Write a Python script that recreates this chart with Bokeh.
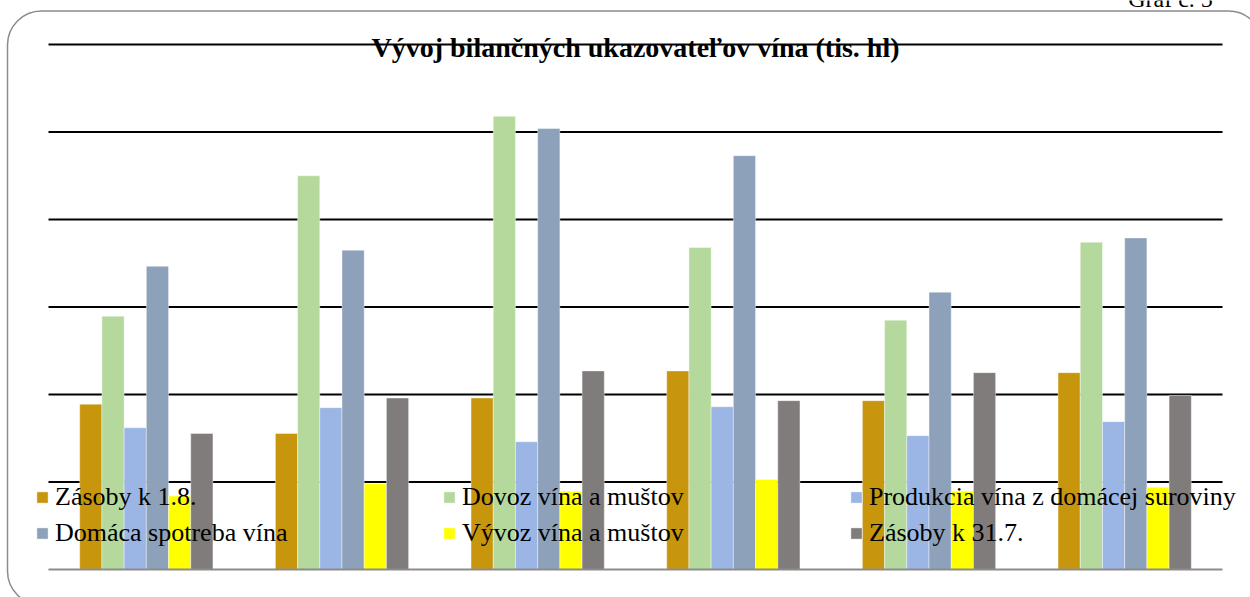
from bokeh.plotting import figure
from bokeh.models import (ColumnDataSource, Range1d, Label, Legend, LegendItem)
from bokeh.transform import dodge
from bokeh.embed import file_html
from bokeh.resources import INLINE

# ---- data (tis. hl) ----
categories = ["obdobie 1", "obdobie 2", "obdobie 3", "obdobie 4", "obdobie 5", "obdobie 6"]
zasoby_1_8 = [378, 311, 392, 454, 386, 450]
dovoz = [579, 900, 1036, 736, 570, 748]
produkcia = [324, 370, 292, 372, 306, 338]
spotreba = [693, 730, 1008, 946, 634, 758]
vyvoz = [168, 196, 179, 206, 179, 188]
zasoby_31_7 = [311, 392, 454, 386, 450, 398]
grid_ticks = [200, 400, 600, 800, 1000, 1200]

series_names = ["Zásoby k 1.8.", "Dovoz vína a muštov", "Produkcia vína z domácej suroviny",
                "Domáca spotreba vína", "Vývoz vína a muštov", "Zásoby k 31.7."]
series_keys = ["z18", "dov", "prod", "spot", "vyv", "z317"]
colors = ["#C8960C", "#B5D99C", "#9BB5E4", "#8EA1BB", "#FFFF00", "#807C7B"]
title_text = "Vývoj bilančných ukazovateľov vína (tis. hl)"
graf_text = "Graf č. 5"

SERIF = "'Liberation Serif', 'Times New Roman', serif"

n = len(categories)
src = ColumnDataSource(dict(cat=categories, xpos=[i + 0.5 for i in range(n)],
                            z18=zasoby_1_8, dov=dovoz, prod=produkcia,
                            spot=spotreba, vyv=vyvoz, z317=zasoby_31_7))

W, H = 1250, 597
p = figure(width=W, height=H, output_backend="svg", toolbar_location=None,
           x_range=Range1d(-0.2453, 6.1430), y_range=Range1d(-64.0, 1300.6),
           min_border_left=0, min_border_right=0, min_border_top=0, min_border_bottom=0,
           margin=0)
p.xaxis.visible = False
p.yaxis.visible = False
p.xgrid.visible = False
p.ygrid.visible = False
p.outline_line_color = None
p.background_fill_color = "white"
p.border_fill_color = "white"

# rounded chart-area border (extends past the right and bottom edges)
p.quad(left=-0.2095, right=6.2044, top=1276.6, bottom=-81.1, fill_alpha=0,
       line_color="#8c8c8c", line_width=1.5, border_radius=34)

# horizontal grid lines across the category span
gsrc = ColumnDataSource(dict(y=grid_ticks, x0=[0] * len(grid_ticks), x1=[n] * len(grid_ticks)))
p.segment(x0="x0", x1="x1", y0="y", y1="y", source=gsrc, line_color="black", line_width=2)

bw = 0.1135
renderers = []
for i, (k, c) in enumerate(zip(series_keys, colors)):
    off = (i - 2.5) * bw
    r = p.vbar(x=dodge("xpos", off), top=k, width=bw, source=src,
               fill_color=c, line_color="white", line_width=0.8, line_alpha=0.5)
    renderers.append(r)

# baseline (category axis line)
bsrc = ColumnDataSource(dict(y=[0], x0=[0], x1=[n]))
p.segment(x0="x0", x1="x1", y0="y", y1="y", source=bsrc, line_color="#8c8c8c", line_width=2)

# legends: three columns
cols = [(0, 3), (1, 4), (2, 5)]
xs = [35, 442, 849]
for (a, b), x in zip(cols, xs):
    lg = Legend(items=[LegendItem(label=series_names[a], renderers=[renderers[a]]),
                       LegendItem(label=series_names[b], renderers=[renderers[b]])],
                location=(x, 49), orientation="vertical",
                label_text_font=SERIF, label_text_font_size="26px",
                label_text_color="black", glyph_width=14, glyph_height=14,
                label_standoff=6, label_height=29, spacing=6, padding=0, margin=0,
                border_line_color=None, background_fill_alpha=0)
    p.add_layout(lg, "center")

p.add_layout(Label(x=3, y=1193, text=title_text, text_align="center",
                   text_baseline="alphabetic", text_font=SERIF,
                   text_font_style="bold", text_font_size="28px", text_color="black"))
p.add_layout(Label(x=5.734, y=1305, text=graf_text, text_align="center",
                   text_baseline="alphabetic", text_font=SERIF,
                   text_font_size="24px", text_color="black"))

open("out.html", "w").write(file_html(p, INLINE))
